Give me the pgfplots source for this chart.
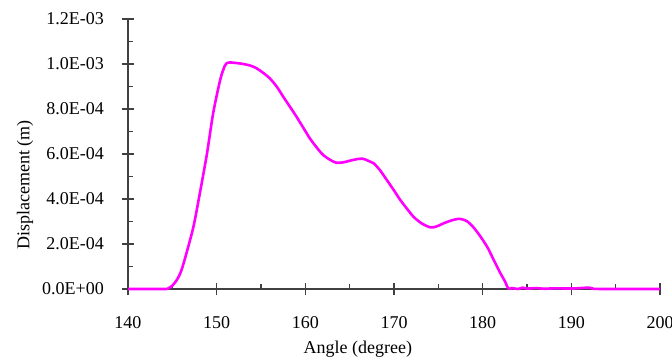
\documentclass[border=0pt]{standalone}
\usepackage{fontspec}
\setmainfont{Liberation Serif}
\usepackage{pgfplots}
\pgfplotsset{compat=1.18}
\definecolor{curve}{RGB}{255,0,255}
\definecolor{axgray}{RGB}{64,64,64}
\begin{document}
\begin{tikzpicture}
\path[use as bounding box] (-128bp,-69bp) rectangle (544bp,289bp);
\begin{axis}[
  at={(0,0)}, anchor=south west,
  scale only axis, width=532bp, height=270bp,
  xmin=140, xmax=200, ymin=0, ymax=0.0012,
  axis x line*=bottom, axis y line*=left,
  axis line style={-, axgray, line width=1.1bp},
  every tick/.style={axgray, line width=1.1bp},
  xtick={140,150,...,200},
  minor x tick num=1,
  ytick={0,0.0002,0.0004,0.0006,0.0008,0.001,0.0012},
  yticklabels={0.0E+00,2.0E-04,4.0E-04,6.0E-04,8.0E-04,1.0E-03,1.2E-03},
  minor y tick num=1,
  scaled y ticks=false,
  tick align=center,
  major tick length=12bp,
  minor tick length=5bp,
  minor x tick style={yshift=2.5bp},
  minor y tick style={xshift=2.5bp},
  /pgf/number format/assume math mode=true,
  tick label style={font=\fontsize{18bp}{21bp}\selectfont, inner sep=0pt},
  xticklabel style={anchor=center, yshift=-28bp},
  yticklabel style={anchor=east, xshift=-18bp},
  label style={font=\fontsize{18bp}{21bp}\selectfont},
  xlabel={Angle (degree)},
  ylabel={Displacement (m)},
  xlabel style={at={(axis description cs:0.432,-0.222)}, anchor=center, inner sep=0pt},
  ylabel style={at={(axis description cs:-0.1936,0.385)}, anchor=center, rotate=0, inner sep=0pt},
  clip=false,
]
\addplot[curve, line width=2.6bp, line join=round, smooth, tension=0.45] table {
140 0
144 0
144.5 0.000002
145 0.000015
145.5 0.00004
146 0.00008
146.6 0.00016
147.4 0.00028
148.1 0.000425
148.9 0.0006
149.6 0.00078
150.4 0.00093
150.9 0.00099
151.2 0.001005
151.5 0.001007
152.3 0.001004
153.0 0.001
153.8 0.000993
154.5 0.000981
155.2 0.000962
156.0 0.000936
156.8 0.000898
157.5 0.000855
158.3 0.000808
159.0 0.000766
159.8 0.000715
160.5 0.00067
161.3 0.000628
162.0 0.000596
162.8 0.000574
163.5 0.000561
164.3 0.000563
165.0 0.00057
165.8 0.000577
166.5 0.000579
167.2 0.000568
167.7 0.000559
168.4 0.000529
169.2 0.000484
170.0 0.000438
170.7 0.000396
171.5 0.000355
172.2 0.000321
173.1 0.000292
174.1 0.000274
174.8 0.000278
175.6 0.000292
176.5 0.000305
177.4 0.000312
178.2 0.000302
178.9 0.000277
179.7 0.000236
180.5 0.000188
181.2 0.000133
182.0 0.00007
182.5 0.000035
182.9 0.000002
183.3 0.000004
184 0
184.5 0.000006
185 0.000002
186 0.000004
187 0.000001
188 0.000003
190 0.000002
191 0.000004
192 0.000006
192.5 0.000001
194 0
200 0
};
\end{axis}
\end{tikzpicture}
\end{document}
